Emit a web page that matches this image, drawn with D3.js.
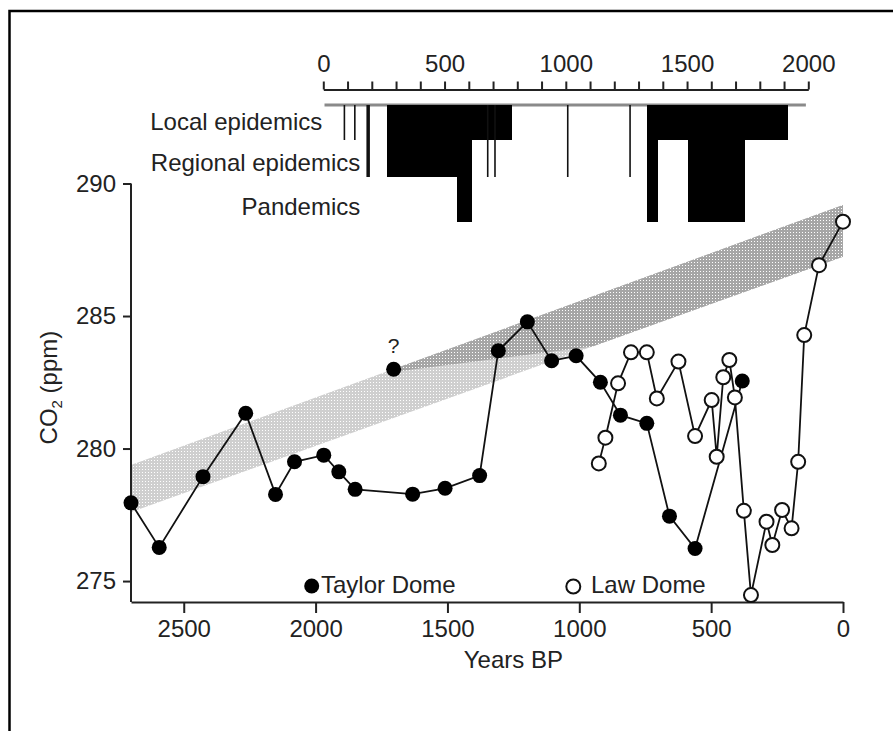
<!DOCTYPE html>
<html>
<head>
<meta charset="utf-8">
<script src="https://cdn.jsdelivr.net/npm/d3@7"></script>
<style>
body { margin: 0; background: #fff; }
text { font-family: "Liberation Sans", Arial, Helvetica, sans-serif; fill: #222; }
</style>
</head>
<body>
<script>
// Taylor Dome CO2 (filled circles), years BP / ppm
var tdYears = [2700, 2593, 2427, 2265, 2152, 2080, 1969, 1912, 1850, 1632, 1509, 1378,
               1307, 1197, 1105, 1012, 920, 844, 744, 658, 561, 382];
var tdCO2 = [277.95, 276.27, 278.94, 281.33, 278.27, 279.50, 279.75, 279.12, 278.46, 278.28, 278.50, 278.98,
             283.69, 284.78, 283.31, 283.50, 282.50, 281.26, 280.95, 277.45, 276.23, 282.55];
// the doubtful sample marked "?"
var tdQueryYear = 1704;
var tdQueryCO2 = 282.99;

// Law Dome CO2 (open circles)
var ldYears = [926, 901, 853, 804, 744, 706, 624, 561, 498, 479, 454, 431, 410, 376,
               349, 290, 268, 231, 195, 170, 147, 91, 0];
var ldCO2 = [279.44, 280.41, 282.46, 283.63, 283.63, 281.89, 283.28, 280.47, 281.83, 279.69, 282.69, 283.34, 281.93, 277.65,
             274.47, 277.24, 276.36, 277.68, 276.99, 279.50, 284.28, 286.92, 288.56];

// shaded trend band
var bandYears = [2700, 0];
var bandLow = [277.60, 287.24];
var bandHigh = [279.38, 289.19];
// darker stipple inside the band
var darkYears = [1700, 0, 0, 950, 1700];
var darkCO2 = [283.01, 289.19, 287.24, 283.85, 282.90];

// epidemics, calendar years AD
var epiLevels = ['Local epidemics', 'Regional epidemics', 'Pandemics'];
var epiStart = [264, 553, 612, 1334, 1377, 1505, 1736];
var epiEnd = [553, 612, 777, 1377, 1505, 1736, 1913];
var epiLevel = [2, 3, 1, 3, 1, 3, 1];
var epiLineYear = [87, 130, 185, 678, 708, 1008, 1265];
var epiLineLevel = [1, 1, 2, 2, 2, 2, 2];
var epiLineKind = ['minor', 'minor', 'major', 'minor', 'minor', 'minor', 'minor'];

var xTicks = [2500, 2000, 1500, 1000, 500, 0];
var yTicks = [275, 280, 285, 290];
var topLabels = [0, 500, 1000, 1500, 2000];

var svg = d3.select('body').append('svg')
   .attr('width', 893)
   .attr('height', 731);

svg.append('rect')
   .attr('x', 9.5).attr('y', 11)
   .attr('width', 900).attr('height', 800)
   .attr('fill', 'none')
   .attr('stroke', '#000')
   .attr('stroke-width', 2.5);

var defs = svg.append('defs');
function stipple(id, bg) {
   var p = defs.append('pattern')
      .attr('id', id)
      .attr('patternUnits', 'userSpaceOnUse')
      .attr('width', 3).attr('height', 3);
   p.append('rect').attr('width', 3).attr('height', 3).attr('fill', bg);
   p.append('rect').attr('x', 1).attr('y', 1).attr('width', 1).attr('height', 1).attr('fill', '#fff');
}
stipple('light', '#cfcfcf');
stipple('dark', '#a6a6a6');

var x = d3.scaleLinear().domain([2700, 0]).range([131, 843]);
var y = d3.scaleLinear().domain([274.21, 290]).range([602, 183.5]);
var xTop = d3.scaleLinear().domain([0, 2000]).range([323.3, 808.3]);
var levelY = d3.scaleLinear().domain([0, 1, 2, 3]).range([105, 140, 177, 222]);

// band
var band = d3.area()
   .x(function(d, i) { return x(bandYears[i]); })
   .y0(function(d, i) { return y(bandLow[i]); })
   .y1(function(d, i) { return y(bandHigh[i]); });
svg.append('path')
   .attr('d', band(bandYears))
   .attr('fill', 'url(#light)');
var poly = d3.line()
   .x(function(d, i) { return x(darkYears[i]); })
   .y(function(d, i) { return y(darkCO2[i]); });
svg.append('path')
   .attr('d', poly(darkYears) + 'Z')
   .attr('fill', 'url(#dark)');

// main axes
var xAxis = d3.axisBottom(x).tickValues(xTicks).tickFormat(d3.format('d'))
   .tickSize(11).tickSizeOuter(0).tickPadding(7);
var gx = svg.append('g').attr('transform', 'translate(0,602)').call(xAxis);
var yAxis = d3.axisLeft(y).tickValues(yTicks).tickSize(8).tickSizeOuter(0).tickPadding(7);
var gy = svg.append('g').attr('transform', 'translate(131,0)').call(yAxis);
[gx, gy].forEach(function(g) {
   g.select('.domain').attr('stroke', '#222').attr('stroke-width', 2);
   g.selectAll('.tick line').attr('stroke', '#222').attr('stroke-width', 2);
   g.selectAll('.tick text').attr('font-size', 24).attr('font-family', null).style('fill', '#222');
});
gy.select('.domain').attr('d', 'M0,' + y(290) + 'V602');

svg.append('text')
   .attr('x', x(1250)).attr('y', 668)
   .attr('text-anchor', 'middle')
   .attr('font-size', 24)
   .text('Years BP');

var ylab = svg.append('text')
   .attr('transform', 'translate(57,' + y(282.3) + ') rotate(-90)')
   .attr('text-anchor', 'middle')
   .attr('font-size', 24);
ylab.append('tspan').text('CO');
ylab.append('tspan').attr('font-size', 15).attr('dy', 5).text('2');
ylab.append('tspan').attr('dy', -5).text(' (ppm)');

// top epidemic axis
var topAxis = d3.axisTop(xTop).tickValues(d3.range(0, 2001, 100)).tickSize(8).tickSizeOuter(0).tickPadding(10)
   .tickFormat(function(d) { return topLabels.indexOf(d) >= 0 ? d : ''; });
var gt = svg.append('g').attr('transform', 'translate(0,89.5)').call(topAxis);
gt.select('.domain').attr('stroke', '#222').attr('stroke-width', 2);
gt.selectAll('.tick line').attr('stroke', '#222').attr('stroke-width', 2);
gt.selectAll('.tick text').attr('font-size', 24).attr('font-family', null).style('fill', '#222');

svg.append('rect')
   .attr('x', xTop(5)).attr('y', levelY(0) - 1.5)
   .attr('width', xTop(1990) - xTop(5)).attr('height', 3)
   .attr('fill', '#8a8a8a');

svg.selectAll('rect.epi')
   .data(epiStart)
   .enter().append('rect')
   .attr('class', 'epi')
   .attr('x', function(d) { return xTop(d); })
   .attr('y', levelY(0))
   .attr('width', function(d, i) { return xTop(epiEnd[i]) - xTop(d) + 0.6; })
   .attr('height', function(d, i) { return levelY(epiLevel[i]) - levelY(0); })
   .attr('fill', '#000')
   .attr('shape-rendering', 'crispEdges');

svg.selectAll('line.epi')
   .data(epiLineYear)
   .enter().append('line')
   .attr('class', 'epi')
   .attr('x1', function(d) { return xTop(d); })
   .attr('x2', function(d) { return xTop(d); })
   .attr('y1', levelY(0))
   .attr('y2', function(d, i) { return levelY(epiLineLevel[i]); })
   .attr('stroke', '#111')
   .attr('stroke-width', function(d, i) { return epiLineKind[i] == 'major' ? 3.5 : 1.6; });

var labX = [xTop(0) - 1, xTop(0) + 37, xTop(0) + 37];
var labY = [130, 171, 215];
svg.selectAll('text.level')
   .data(epiLevels)
   .enter().append('text')
   .attr('class', 'level')
   .attr('x', function(d, i) { return labX[i]; })
   .attr('y', function(d, i) { return labY[i]; })
   .attr('text-anchor', 'end')
   .attr('font-size', 24)
   .text(function(d) { return d; });

// series lines
var tdLine = d3.line()
   .x(function(d, i) { return x(tdYears[i]); })
   .y(function(d, i) { return y(tdCO2[i]); });
var ldLine = d3.line()
   .x(function(d, i) { return x(ldYears[i]); })
   .y(function(d, i) { return y(ldCO2[i]); });

svg.append('path')
   .attr('d', ldLine(ldYears))
   .attr('fill', 'none').attr('stroke', '#111').attr('stroke-width', 1.8);
svg.append('path')
   .attr('d', tdLine(tdYears))
   .attr('fill', 'none').attr('stroke', '#111').attr('stroke-width', 1.8);

svg.selectAll('circle.ld')
   .data(ldYears)
   .enter().append('circle')
   .attr('class', 'ld')
   .attr('cx', function(d) { return x(d); })
   .attr('cy', function(d, i) { return y(ldCO2[i]); })
   .attr('r', 7)
   .attr('fill', '#fff')
   .attr('stroke', '#111')
   .attr('stroke-width', 2);

svg.selectAll('circle.td')
   .data(tdYears)
   .enter().append('circle')
   .attr('class', 'td')
   .attr('cx', function(d) { return x(d); })
   .attr('cy', function(d, i) { return y(tdCO2[i]); })
   .attr('r', 7.5)
   .attr('fill', '#000');

svg.append('circle')
   .attr('cx', x(tdQueryYear)).attr('cy', y(tdQueryCO2))
   .attr('r', 7.5).attr('fill', '#000');
svg.append('text')
   .attr('x', x(tdQueryYear)).attr('y', y(tdQueryCO2) - 16)
   .attr('text-anchor', 'middle')
   .attr('font-size', 21)
   .text('?');

// legend
svg.append('circle').attr('cx', 311.7).attr('cy', 586).attr('r', 7.5).attr('fill', '#000');
svg.append('text').attr('x', 321).attr('y', 592.5).attr('font-size', 24).text('Taylor Dome');
svg.append('circle').attr('cx', 573.3).attr('cy', 586.5).attr('r', 7)
   .attr('fill', '#fff').attr('stroke', '#111').attr('stroke-width', 2);
svg.append('text').attr('x', 591).attr('y', 592.5).attr('font-size', 24).text('Law Dome');
</script>
</body>
</html>
